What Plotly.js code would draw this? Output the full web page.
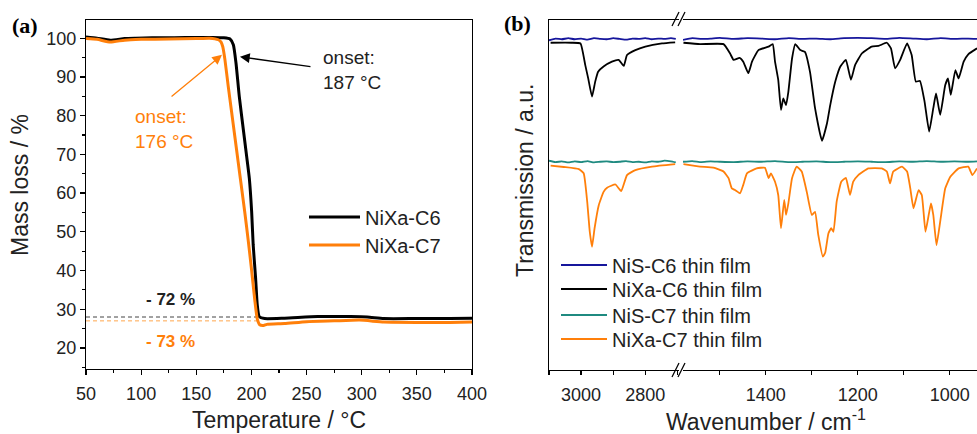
<!DOCTYPE html>
<html>
<head>
<meta charset="utf-8">
<script src="https://cdn.plot.ly/plotly-3.0.1.min.js"></script>
<style>html,body{margin:0;padding:0;background:#fff;}#chart{width:977px;height:434px;}</style>
</head>
<body>
<div id="chart"></div>
<script>
// ---------------- Panel (a): TGA ----------------
const tgaTempC6 = [50, 60, 72, 85, 95, 110, 130, 150, 165, 175, 180.6, 183.6, 186, 189, 192.7, 195.7, 198.1, 200.2, 201.6, 203.8, 205.3, 207.1, 212, 230, 260, 290, 305, 320, 350, 380, 400];
const tgaMassC6 = [100.3, 100.0, 99.5, 99.9, 100.0, 100.1, 100.1, 100.2, 100.2, 100.1, 99.8, 98.3, 93.6, 84.9, 76.3, 69.4, 63.8, 55.2, 46.6, 38.0, 31.1, 28.1, 27.6, 27.7, 28.1, 28.1, 28.0, 27.6, 27.6, 27.6, 27.7];
const tgaTempC7 = [50, 60, 72, 85, 100, 125, 150, 162, 170, 172.5, 174, 176, 179, 182, 185, 188, 191, 194, 197, 200, 203, 205.3, 207.5, 211, 214, 230, 250, 275, 298, 320, 350, 380, 400];
const tgaMassC7 = [99.9, 99.7, 99.0, 99.5, 99.7, 99.8, 99.9, 100.0, 99.6, 99.0, 97.8, 94.4, 87.5, 81.0, 74.5, 68.0, 61.5, 55.0, 48.0, 40.5, 32.5, 27.5, 26.0, 25.8, 26.1, 26.3, 26.8, 27.0, 27.2, 26.7, 26.6, 26.6, 26.7];
const massLoss = [72, 73];            // % mass loss, NiXa-C6 / NiXa-C7
const lossLabels = ['- 72 %', '- 73 %'];
const onsetTemps = [187, 176];        // °C, NiXa-C6 / NiXa-C7
const tgaNames = ['NiXa-C6', 'NiXa-C7'];

// ---------------- Panel (b): IR spectra (transmission, a.u., offset) ----------------
const wnHighC6 = [3095, 3030, 3002, 2987, 2978, 2966, 2956, 2947, 2930, 2904, 2883, 2867, 2857, 2831, 2800, 2748, 2707];
const trHighC6 = [93.5, 93.5, 93.3, 87.1, 83.4, 78.1, 82.4, 85.2, 86.7, 88.1, 88.6, 86.9, 90.0, 91.4, 92.4, 93.3, 93.6];
const wnLowC6 = [1579, 1543, 1492, 1478, 1470, 1457, 1449, 1438, 1430, 1416, 1394, 1385, 1380, 1373, 1367, 1362, 1356, 1351, 1343, 1336, 1325, 1315, 1304, 1293, 1278, 1267, 1260, 1249, 1238, 1226, 1215, 1206, 1191, 1170, 1155, 1137, 1128, 1119, 1108, 1093, 1083, 1074, 1065, 1055, 1045, 1036, 1030, 1021, 1010, 1004, 998, 988, 981, 970, 960, 941];
const trLowC6 = [93.5, 93.1, 93.1, 90.5, 88.6, 89.2, 88.1, 84.8, 88.1, 91.4, 92.4, 93.1, 88.1, 82.9, 74.3, 77.6, 75.7, 79.5, 89.0, 93.1, 91.4, 90.9, 85.2, 74.8, 65.5, 70.5, 75.7, 82.4, 86.7, 88.6, 82.9, 87.1, 90.5, 92.4, 92.6, 93.5, 91.9, 86.2, 88.6, 93.3, 90.0, 82.4, 82.6, 76.7, 68.1, 74.8, 79.0, 72.9, 81.4, 83.3, 78.6, 85.7, 83.3, 88.1, 90.2, 91.9];

const wnHighC7 = [3095, 3054, 3007, 2992, 2981, 2973, 2966, 2958, 2945, 2930, 2919, 2893, 2875, 2857, 2831, 2779, 2707];
const trHighC7 = [58.4, 58.0, 57.4, 56.2, 48.1, 39.5, 35.2, 40.5, 47.1, 50.9, 52.1, 53.0, 51.1, 55.7, 57.1, 58.1, 58.8];
const wnLowC7 = [1579, 1543, 1514, 1492, 1481, 1474, 1467, 1456, 1449, 1441, 1420, 1402, 1394, 1389, 1380, 1373, 1367, 1360, 1356, 1351, 1343, 1333, 1322, 1311, 1300, 1293, 1286, 1276, 1271, 1264, 1258, 1253, 1246, 1236, 1226, 1217, 1210, 1199, 1177, 1148, 1137, 1130, 1123, 1104, 1093, 1086, 1079, 1068, 1061, 1053, 1046, 1041, 1036, 1029, 1021, 1010, 999, 981, 960, 951, 941];
const trLowC7 = [58.8, 58.1, 57.8, 56.7, 54.8, 51.9, 51.4, 50.5, 52.9, 56.2, 57.6, 57.8, 54.8, 56.2, 53.8, 50.0, 40.5, 48.6, 44.3, 47.6, 54.8, 58.1, 56.7, 50.9, 44.3, 45.2, 38.6, 32.4, 33.5, 39.0, 40.5, 39.5, 48.1, 53.8, 54.9, 50.0, 53.8, 55.7, 57.6, 57.6, 56.7, 53.3, 56.7, 58.1, 56.7, 51.9, 46.2, 51.4, 50.0, 39.5, 44.3, 47.6, 44.3, 35.7, 42.4, 51.9, 55.2, 57.6, 58.1, 55.7, 57.6];

const wnHighRef = [3100, 3080, 3060, 3040, 3020, 3000, 2980, 2960, 2940, 2920, 2900, 2880, 2860, 2840, 2820, 2800, 2780, 2760, 2740, 2720, 2705];
const trHighNiSC6 = [94.2, 94.7, 94.5, 94.8, 94.5, 94.7, 94.4, 94.8, 94.6, 94.5, 94.8, 94.6, 94.4, 94.7, 94.6, 94.8, 94.5, 94.7, 94.6, 94.8, 94.6];
const trHighNiSC7 = [59.8, 59.4, 59.6, 59.3, 59.6, 59.4, 59.7, 59.3, 59.5, 59.6, 59.4, 59.5, 59.7, 59.4, 59.5, 59.3, 59.6, 59.5, 59.8, 59.6, 59.3];
const wnLowRef = [1580, 1560, 1540, 1520, 1500, 1470, 1440, 1410, 1380, 1350, 1320, 1290, 1260, 1230, 1200, 1170, 1140, 1110, 1080, 1050, 1020, 990, 960, 941];
const trLowNiSC6 = [94.3, 94.8, 94.6, 94.7, 94.9, 94.6, 94.8, 94.7, 94.5, 94.8, 94.6, 94.7, 94.5, 94.8, 94.9, 94.8, 94.6, 94.9, 94.7, 94.5, 94.8, 94.6, 94.7, 94.6];
const trLowNiSC7 = [59.5, 59.7, 59.4, 59.6, 59.5, 59.4, 59.6, 59.5, 59.7, 59.4, 59.5, 59.6, 59.4, 59.5, 59.6, 59.5, 59.4, 59.6, 59.5, 59.7, 59.5, 59.6, 59.5, 59.6];

const irNames = ['NiS-C6 thin film', 'NiXa-C6 thin film', 'NiS-C7 thin film', 'NiXa-C7 thin film'];

// ---------------- styling ----------------
const W = 977, H = 434;
const fx = p => p / W;
const fy = p => 1 - p / H;
const FONT = 'Liberation Sans, Arial, sans-serif';
const C_BLACK = '#000000', C_ORANGE = '#ff7f0a', C_BLUE = '#16169c', C_TEAL = '#1f8a80';

const traces = [];
// dashed residual-mass lines
const dashX = [50, 206];
traces.push({x: dashX, y: [100 - massLoss[0], 100 - massLoss[0]], xaxis: 'x', yaxis: 'y', mode: 'lines',
  line: {color: '#444', width: 1, dash: '4px,3px'}, showlegend: false, hoverinfo: 'skip'});
traces.push({x: dashX, y: [100 - massLoss[1], 100 - massLoss[1]], xaxis: 'x', yaxis: 'y', mode: 'lines',
  line: {color: '#ffa64d', width: 1, dash: '4px,3px'}, showlegend: false, hoverinfo: 'skip'});
traces.push({x: tgaTempC6, y: tgaMassC6, xaxis: 'x', yaxis: 'y', mode: 'lines', name: tgaNames[0],
  line: {color: C_BLACK, width: 3, shape: 'spline', smoothing: 0.5}, legend: 'legend'});
traces.push({x: tgaTempC7, y: tgaMassC7, xaxis: 'x', yaxis: 'y', mode: 'lines', name: tgaNames[1],
  line: {color: C_ORANGE, width: 3, shape: 'spline', smoothing: 0.5}, legend: 'legend2'});

function irPair(name, color, wh, th, wl, tl, leg) {
  traces.push({x: wh, y: th, xaxis: 'x2', yaxis: 'y2', mode: 'lines', name: name, legendgroup: name,
    line: {color: color, width: 1.8, shape: 'spline', smoothing: 0.4}, legend: leg});
  traces.push({x: wl, y: tl, xaxis: 'x3', yaxis: 'y2', mode: 'lines', name: name, legendgroup: name, showlegend: false,
    line: {color: color, width: 1.8, shape: 'spline', smoothing: 0.4}, legend: leg});
}
irPair(irNames[0], C_BLUE, wnHighRef, trHighNiSC6, wnLowRef, trLowNiSC6, 'legend3');
irPair(irNames[1], C_BLACK, wnHighC6, trHighC6, wnLowC6, trLowC6, 'legend4');
irPair(irNames[2], C_TEAL, wnHighRef, trHighNiSC7, wnLowRef, trLowNiSC7, 'legend5');
irPair(irNames[3], C_ORANGE, wnHighC7, trHighC7, wnLowC7, trLowC7, 'legend6');

const axBase = {showgrid: false, zeroline: false, showline: true, linecolor: '#000', linewidth: 1.2,
  ticks: 'outside', tickcolor: '#000', tickwidth: 1.2, ticklen: 5,
  tickfont: {family: FONT, size: 18, color: '#222'}};

function legendAt(lineStartX, centerY, itemw) {
  return {x: fx(lineStartX - 4), y: fy(centerY - 20.5), xanchor: 'left', yanchor: 'top', bgcolor: 'rgba(0,0,0,0)', borderwidth: 0,
    font: {family: FONT, size: 20, color: '#222'}, itemwidth: itemw, tracegroupgap: 0};
}

const layout = {
  width: W, height: H,
  margin: {l: 0, r: 0, t: 0, b: 0},
  paper_bgcolor: '#fff', plot_bgcolor: 'rgba(0,0,0,0)',
  font: {family: FONT, color: '#222'},
  xaxis: Object.assign({}, axBase, {domain: [fx(86), fx(472)], range: [50, 400], dtick: 50, tick0: 0, mirror: true, anchor: 'y',
    ticklabelstandoff: 4,
    minor: {dtick: 25, ticks: 'outside', ticklen: 3, tickcolor: '#000', tickwidth: 1.2}}),
  yaxis: Object.assign({}, axBase, {domain: [fy(368.5), fy(20)], range: [14.7, 104.7], dtick: 10, tick0: 0, mirror: true, anchor: 'x',
    minor: {dtick: 5, ticks: 'outside', ticklen: 3, tickcolor: '#000', tickwidth: 1.2}}),
  xaxis2: Object.assign({}, axBase, {domain: [fx(549), fx(679)], range: [3100, 2695], dtick: 200, tick0: 0, mirror: true, anchor: 'y2',
    ticklen: 4, ticklabelstandoff: 4, minor: {dtick: 100, ticks: 'outside', ticklen: 4, tickcolor: '#000', tickwidth: 1.2}}),
  xaxis3: Object.assign({}, axBase, {domain: [fx(683), 1], range: [1580, 941], dtick: 200, tick0: 0, mirror: true, anchor: 'y2',
    ticklen: 4, ticklabelstandoff: 4, minor: {dtick: 100, ticks: 'outside', ticklen: 4, tickcolor: '#000', tickwidth: 1.2}}),
  yaxis2: Object.assign({}, axBase, {domain: [fy(370), fy(20)], range: [0, 100], anchor: 'x2', ticks: '', showticklabels: false}),
  legend: legendAt(308, 218, 51),
  legend2: legendAt(308, 246, 51),
  legend3: legendAt(560, 266, 46),
  legend4: legendAt(560, 290, 46),
  legend5: legendAt(560, 316, 46),
  legend6: legendAt(560, 340, 46),
  shapes: [
    {type: 'line', xref: 'paper', yref: 'paper', x0: fx(672), y0: fy(26), x1: fx(679), y1: fy(12), line: {color: '#000', width: 1.3}},
    {type: 'line', xref: 'paper', yref: 'paper', x0: fx(678), y0: fy(26), x1: fx(685), y1: fy(12), line: {color: '#000', width: 1.3}},
    {type: 'line', xref: 'paper', yref: 'paper', x0: fx(672), y0: fy(377), x1: fx(679), y1: fy(363), line: {color: '#000', width: 1.3}},
    {type: 'line', xref: 'paper', yref: 'paper', x0: fx(678), y0: fy(377), x1: fx(685), y1: fy(363), line: {color: '#000', width: 1.3}}
  ],
  annotations: [
    // panel labels
    {text: '<b>(a)</b>', xref: 'paper', yref: 'paper', x: fx(25), y: fy(25), xanchor: 'center', yanchor: 'middle', showarrow: false,
      font: {family: 'Liberation Serif, Times New Roman, serif', size: 22, color: '#000'}},
    {text: '<b>(b)</b>', xref: 'paper', yref: 'paper', x: fx(517), y: fy(24), xanchor: 'center', yanchor: 'middle', showarrow: false,
      font: {family: 'Liberation Serif, Times New Roman, serif', size: 22, color: '#000'}},
    // axis titles
    {text: 'Temperature / °C', xref: 'paper', yref: 'paper', x: fx(279), y: fy(420), xanchor: 'center', yanchor: 'middle', showarrow: false,
      font: {family: FONT, size: 23, color: '#222'}},
    {text: 'Mass loss / %', xref: 'paper', yref: 'paper', x: fx(20), y: fy(185), xanchor: 'center', yanchor: 'middle', showarrow: false, textangle: -90,
      font: {family: FONT, size: 23, color: '#222'}},
    {text: 'Wavenumber / cm<sup>-1</sup>', xref: 'paper', yref: 'paper', x: fx(766), y: fy(420), xanchor: 'center', yanchor: 'middle', showarrow: false,
      font: {family: FONT, size: 23, color: '#222'}},
    {text: 'Transmission / a.u.', xref: 'paper', yref: 'paper', x: fx(525), y: fy(181), xanchor: 'center', yanchor: 'middle', showarrow: false, textangle: -90,
      font: {family: FONT, size: 23, color: '#222'}},
    // onset arrows
    {x: 189.6, y: 95.2, ax: 254.9, ay: 92.6, xref: 'x', yref: 'y', axref: 'x', ayref: 'y', text: '', showarrow: true,
      arrowhead: 2, arrowsize: 1.5, arrowwidth: 1.3, arrowcolor: '#000'},
    {x: 173.3, y: 95.7, ax: 126.2, ay: 84.6, xref: 'x', yref: 'y', axref: 'x', ayref: 'y', text: '', showarrow: true,
      arrowhead: 2, arrowsize: 1.5, arrowwidth: 1.3, arrowcolor: C_ORANGE},
    {text: 'onset:<br>' + onsetTemps[0] + ' °C', xref: 'paper', yref: 'paper', x: fx(321), y: fy(70), xanchor: 'left', yanchor: 'middle', align: 'left', showarrow: false,
      font: {family: FONT, size: 19, color: '#222'}},
    {text: 'onset:<br>' + onsetTemps[1] + ' °C', xref: 'paper', yref: 'paper', x: fx(133), y: fy(128.5), xanchor: 'left', yanchor: 'middle', align: 'left', showarrow: false,
      font: {family: FONT, size: 19, color: C_ORANGE}},
    // mass loss labels
    {text: '<b>' + lossLabels[0] + '</b>', xref: 'paper', yref: 'paper', x: fx(170), y: fy(299), xanchor: 'center', yanchor: 'middle', showarrow: false,
      font: {family: FONT, size: 17, color: '#222'}},
    {text: '<b>' + lossLabels[1] + '</b>', xref: 'paper', yref: 'paper', x: fx(170), y: fy(341), xanchor: 'center', yanchor: 'middle', showarrow: false,
      font: {family: FONT, size: 17, color: C_ORANGE}}
  ]
};

Plotly.newPlot('chart', traces, layout, {displayModeBar: false, staticPlot: true});
</script>
</body>
</html>
